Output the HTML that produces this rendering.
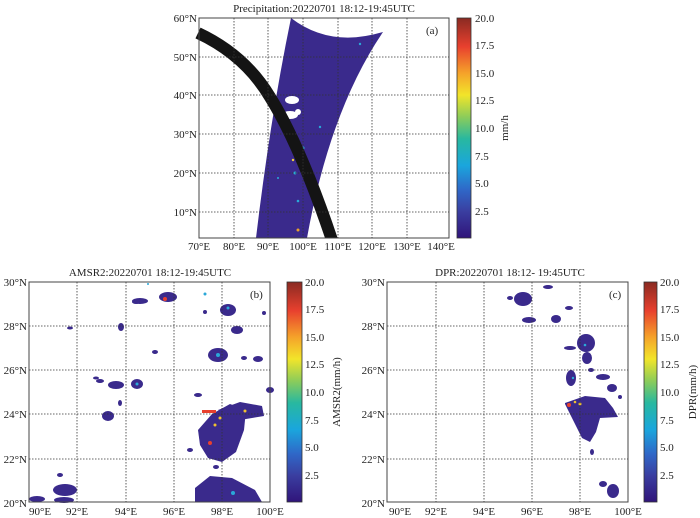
<!DOCTYPE html>
<html><head><meta charset="utf-8"><style>
body{margin:0;background:#fff}
svg{display:block;font-family:"Liberation Serif",serif;}
</style></head><body>
<svg width="700" height="518" viewBox="0 0 700 518" xmlns="http://www.w3.org/2000/svg">
<defs>
<linearGradient id="cb" x1="0" y1="1" x2="0" y2="0">
<stop offset="0" stop-color="#30147a"/>
<stop offset="0.12" stop-color="#3a3ea0"/>
<stop offset="0.22" stop-color="#2f68c8"/>
<stop offset="0.33" stop-color="#1aa6dd"/>
<stop offset="0.45" stop-color="#28b8a0"/>
<stop offset="0.55" stop-color="#8ccc5a"/>
<stop offset="0.65" stop-color="#f2e52a"/>
<stop offset="0.75" stop-color="#f5a22a"/>
<stop offset="0.87" stop-color="#e8402e"/>
<stop offset="1" stop-color="#8a2a22"/>
</linearGradient>
</defs>
<g font-size="11" fill="#222">
<!-- Panel a -->
<text x="324" y="12" text-anchor="middle">Precipitation:20220701 18:12-19:45UTC</text>
<path d="M291,18 Q330,48 383,32 Q330,110 307,238 L256,238 Q270,120 291,18Z" fill="#3a2a8c"/>
<g fill="#fff"><ellipse cx="292" cy="100" rx="7" ry="4"/><ellipse cx="290" cy="115" rx="8" ry="4"/><ellipse cx="298" cy="112" rx="3" ry="3"/></g>
<g fill="#2aa8d8"><circle cx="303" cy="148" r="1.5"/><circle cx="295" cy="173" r="1.5"/><circle cx="320" cy="127" r="1.2"/><circle cx="298" cy="201" r="1.3"/><circle cx="360" cy="44" r="1.2"/><circle cx="278" cy="178" r="1"/></g>
<circle cx="298" cy="230" r="1.5" fill="#e8a030"/><circle cx="293" cy="160" r="1.2" fill="#f0d040"/>
<path d="M198,33 Q245,55 270,97 Q300,145 332,240" fill="none" stroke="#141414" stroke-width="12"/>
<rect x="0" y="0" width="199" height="18" fill="#fff"/><rect x="0" y="238" width="700" height="20" fill="#fff"/>
<g stroke="#333" stroke-width="0.8" stroke-dasharray="1.5,1.5">
<line x1="234" y1="18" x2="234" y2="238"/><line x1="268" y1="18" x2="268" y2="238"/><line x1="303" y1="18" x2="303" y2="238"/><line x1="338" y1="18" x2="338" y2="238"/><line x1="372" y1="18" x2="372" y2="238"/><line x1="407" y1="18" x2="407" y2="238"/>
<line x1="199" y1="57" x2="449" y2="57"/><line x1="199" y1="95" x2="449" y2="95"/><line x1="199" y1="134" x2="449" y2="134"/><line x1="199" y1="173" x2="449" y2="173"/><line x1="199" y1="212" x2="449" y2="212"/>
</g>
<rect x="199" y="18" width="250" height="220" fill="none" stroke="#444" stroke-width="1"/>
<text x="426" y="34">(a)</text>
<g text-anchor="end"><text x="197" y="22">60°N</text><text x="197" y="61">50°N</text><text x="197" y="99">40°N</text><text x="197" y="138">30°N</text><text x="197" y="177">20°N</text><text x="197" y="216">10°N</text></g>
<g text-anchor="middle"><text x="199" y="250">70°E</text><text x="234" y="250">80°E</text><text x="268" y="250">90°E</text><text x="303" y="250">100°E</text><text x="338" y="250">110°E</text><text x="372" y="250">120°E</text><text x="407" y="250">130°E</text><text x="441" y="250">140°E</text></g>
<rect x="457" y="18" width="14" height="220" fill="url(#cb)" stroke="#333" stroke-width="0.8"/>
<g><text x="475" y="22">20.0</text><text x="475" y="49">17.5</text><text x="475" y="77">15.0</text><text x="475" y="104">12.5</text><text x="475" y="132">10.0</text><text x="475" y="160">7.5</text><text x="475" y="187">5.0</text><text x="475" y="215">2.5</text></g>
<text transform="translate(508,128) rotate(-90)" text-anchor="middle">mm/h</text>

<!-- Panel b -->
<text x="150" y="276" text-anchor="middle">AMSR2:20220701 18:12-19:45UTC</text>
<g fill="#3a2a8c">
<path d="M198,430 L212,414 L230,404 L246,410 L244,430 L236,452 L222,462 L208,458 L200,445Z"/>
<path d="M218,410 L240,402 L262,406 L264,416 L240,420Z"/>
<ellipse cx="218" cy="355" rx="10" ry="7"/><ellipse cx="228" cy="310" rx="8" ry="6"/><ellipse cx="237" cy="330" rx="6" ry="4"/>
<path d="M195,488 L210,476 L232,478 L255,490 L262,502 L195,502Z"/>
<ellipse cx="137" cy="384" rx="6" ry="5"/><ellipse cx="108" cy="416" rx="6" ry="5"/><ellipse cx="116" cy="385" rx="8" ry="4"/><ellipse cx="168" cy="297" rx="9" ry="5"/><ellipse cx="140" cy="301" rx="8" ry="3"/>
<ellipse cx="65" cy="490" rx="12" ry="6"/><ellipse cx="64" cy="500" rx="10" ry="3"/><ellipse cx="37" cy="499" rx="8" ry="3"/><ellipse cx="270" cy="390" rx="4" ry="3"/>
<ellipse cx="121" cy="327" rx="3" ry="4"/><ellipse cx="258" cy="359" rx="5" ry="3"/><ellipse cx="100" cy="381" rx="4" ry="2"/><ellipse cx="222" cy="445" rx="6" ry="3"/>
<ellipse cx="155" cy="352" rx="3" ry="2"/><ellipse cx="120" cy="403" rx="2" ry="3"/><ellipse cx="96" cy="378" rx="3" ry="1.5"/><ellipse cx="198" cy="395" rx="4" ry="2"/><ellipse cx="216" cy="467" rx="3" ry="2"/><ellipse cx="190" cy="450" rx="3" ry="2"/><ellipse cx="136" cy="302" rx="4" ry="2"/><ellipse cx="70" cy="262" rx="0" ry="0"/><ellipse cx="264" cy="313" rx="2" ry="2"/><ellipse cx="205" cy="312" rx="2" ry="2"/><ellipse cx="60" cy="475" rx="3" ry="2"/><ellipse cx="70" cy="328" rx="3" ry="1.5"/><ellipse cx="244" cy="358" rx="3" ry="2"/>
</g>
<g fill="#e8402e"><rect x="202" y="410" width="14" height="3"/><circle cx="210" cy="443" r="2"/><circle cx="165" cy="299" r="2"/></g>
<g fill="#f0c030"><circle cx="220" cy="418" r="1.5"/><circle cx="215" cy="425" r="1.5"/><circle cx="245" cy="411" r="1.5"/></g>
<g fill="#2aa8d8"><circle cx="218" cy="355" r="2"/><circle cx="228" cy="308" r="1.5"/><circle cx="137" cy="384" r="1.5"/><circle cx="233" cy="493" r="2"/><circle cx="205" cy="294" r="1.5"/><circle cx="148" cy="284" r="1"/></g>
<g stroke="#333" stroke-width="0.8" stroke-dasharray="1.5,1.5">
<line x1="77" y1="282" x2="77" y2="502"/><line x1="126" y1="282" x2="126" y2="502"/><line x1="174" y1="282" x2="174" y2="502"/><line x1="222" y1="282" x2="222" y2="502"/>
<line x1="29" y1="326" x2="270" y2="326"/><line x1="29" y1="370" x2="270" y2="370"/><line x1="29" y1="414" x2="270" y2="414"/><line x1="29" y1="459" x2="270" y2="459"/>
</g>
<rect x="29" y="282" width="241" height="220" fill="none" stroke="#444"/>
<text x="250" y="298">(b)</text>
<g text-anchor="end"><text x="27" y="286">30°N</text><text x="27" y="330">28°N</text><text x="27" y="374">26°N</text><text x="27" y="418">24°N</text><text x="27" y="463">22°N</text><text x="27" y="507">20°N</text></g>
<g text-anchor="middle"><text x="40" y="515">90°E</text><text x="77" y="515">92°E</text><text x="126" y="515">94°E</text><text x="174" y="515">96°E</text><text x="222" y="515">98°E</text><text x="270" y="515">100°E</text></g>
<rect x="287" y="282" width="15" height="220" fill="url(#cb)" stroke="#333" stroke-width="0.8"/>
<g><text x="305" y="286">20.0</text><text x="305" y="313">17.5</text><text x="305" y="341">15.0</text><text x="305" y="368">12.5</text><text x="305" y="396">10.0</text><text x="305" y="424">7.5</text><text x="305" y="451">5.0</text><text x="305" y="479">2.5</text></g>
<text transform="translate(340,392) rotate(-90)" text-anchor="middle">AMSR2(mm/h)</text>

<!-- Panel c -->
<text x="510" y="276" text-anchor="middle">DPR:20220701 18:12- 19:45UTC</text>
<g fill="#3a2a8c">
<path d="M565,403 L585,396 L605,398 L613,408 L618,417 L600,418 L596,432 L590,442 L582,438 L565,404Z"/>
<ellipse cx="523" cy="299" rx="9" ry="7"/><ellipse cx="529" cy="320" rx="7" ry="3"/><ellipse cx="548" cy="287" rx="5" ry="2"/><ellipse cx="556" cy="319" rx="5" ry="4"/>
<ellipse cx="586" cy="343" rx="9" ry="9"/><ellipse cx="587" cy="358" rx="5" ry="6"/><ellipse cx="571" cy="378" rx="5" ry="8"/><ellipse cx="603" cy="377" rx="7" ry="3"/><ellipse cx="612" cy="388" rx="5" ry="4"/>
<ellipse cx="613" cy="491" rx="6" ry="7"/><ellipse cx="603" cy="484" rx="4" ry="3"/><ellipse cx="570" cy="348" rx="6" ry="2"/><ellipse cx="569" cy="308" rx="4" ry="2"/>
<ellipse cx="592" cy="452" rx="2" ry="3"/><ellipse cx="510" cy="298" rx="3" ry="2"/><ellipse cx="591" cy="370" rx="3" ry="2"/><ellipse cx="620" cy="397" rx="2" ry="2"/>
</g>
<g fill="#e8402e"><circle cx="569" cy="405" r="2"/></g>
<g fill="#f0c030"><circle cx="580" cy="404" r="1.5"/><circle cx="575" cy="402" r="1.3"/></g>
<g fill="#2aa8d8"><circle cx="585" cy="345" r="1.3"/><circle cx="573" cy="378" r="1.2"/></g>
<g stroke="#333" stroke-width="0.8" stroke-dasharray="1.5,1.5">
<line x1="436" y1="282" x2="436" y2="502"/><line x1="484" y1="282" x2="484" y2="502"/><line x1="532" y1="282" x2="532" y2="502"/><line x1="580" y1="282" x2="580" y2="502"/>
<line x1="387" y1="326" x2="628" y2="326"/><line x1="387" y1="370" x2="628" y2="370"/><line x1="387" y1="414" x2="628" y2="414"/><line x1="387" y1="459" x2="628" y2="459"/>
</g>
<rect x="387" y="282" width="241" height="220" fill="none" stroke="#444"/>
<text x="609" y="298">(c)</text>
<g text-anchor="end"><text x="385" y="286">30°N</text><text x="385" y="330">28°N</text><text x="385" y="374">26°N</text><text x="385" y="418">24°N</text><text x="385" y="463">22°N</text><text x="385" y="507">20°N</text></g>
<g text-anchor="middle"><text x="400" y="515">90°E</text><text x="436" y="515">92°E</text><text x="484" y="515">94°E</text><text x="532" y="515">96°E</text><text x="580" y="515">98°E</text><text x="628" y="515">100°E</text></g>
<rect x="644" y="282" width="13" height="220" fill="url(#cb)" stroke="#333" stroke-width="0.8"/>
<g><text x="660" y="286">20.0</text><text x="660" y="313">17.5</text><text x="660" y="341">15.0</text><text x="660" y="368">12.5</text><text x="660" y="396">10.0</text><text x="660" y="424">7.5</text><text x="660" y="451">5.0</text><text x="660" y="479">2.5</text></g>
<text transform="translate(696,392) rotate(-90)" text-anchor="middle">DPR(mm/h)</text>
</g>
</svg>
</body></html>
